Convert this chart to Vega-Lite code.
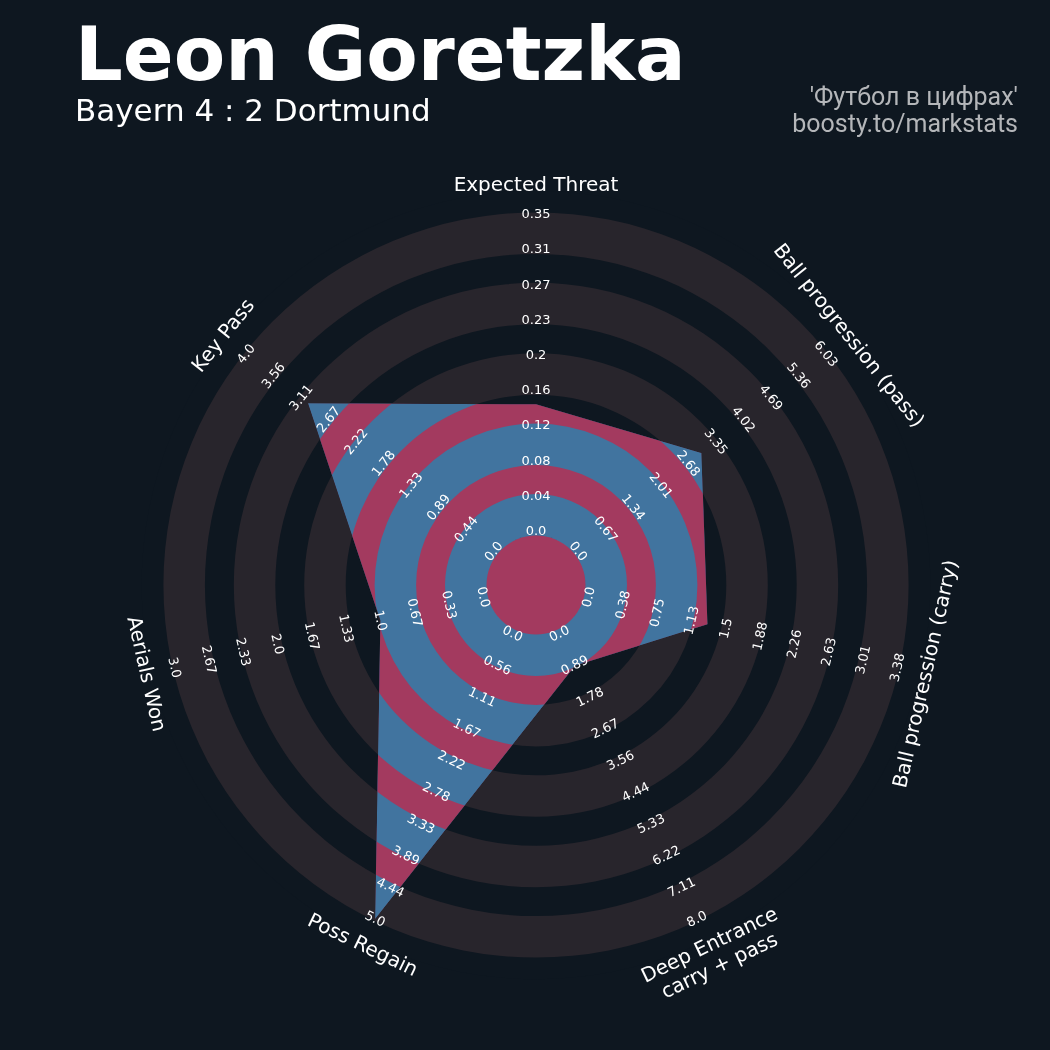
{
  "$schema": "https://vega.github.io/schema/vega-lite/v6.json",
  "width": 1028,
  "height": 930,
  "autosize": {"type": "none"},
  "padding": {"left": 22, "top": 120, "right": 0, "bottom": 0},
  "background": "#0e1720",
  "config": {"view": {"stroke": null, "fill": "#0e1720"}, "text": {"font": "DejaVu Sans"}},
  "title": {
    "text": "Leon Goretzka",
    "subtitle": "Bayern 4 : 2 Dortmund",
    "anchor": "start",
    "frame": "group",
    "font": "DejaVu Sans",
    "fontSize": 75,
    "fontWeight": "bold",
    "color": "#ffffff",
    "subtitleFont": "DejaVu Sans",
    "subtitleFontSize": 31,
    "subtitleColor": "#ffffff",
    "subtitlePadding": 1,
    "dx": 53,
    "offset": -43
  },
  "datasets": {
    "params": [
      {"i": 0, "param": "Expected Threat", "value": 0.14, "max": 0.35},
      {"i": 1, "param": "Ball progression (pass)", "value": 3.0, "max": 6.03},
      {"i": 2, "param": "Ball progression (carry)", "value": 1.3, "max": 3.38},
      {"i": 3, "param": "Deep Entrance\ncarry + pass", "value": 0.9, "max": 8.0},
      {"i": 4, "param": "Poss Regain", "value": 5.0, "max": 5.0},
      {"i": 5, "param": "Aerials Won", "value": 1.0, "max": 3.0},
      {"i": 6, "param": "Key Pass", "value": 3.0, "max": 4.0}
    ],
    "rings": [{"ring": 0}, {"ring": 1}, {"ring": 2}, {"ring": 3}, {"ring": 4}],
    "ticks": [
      {"i":0,"k":0,"t":"0.0"},{"i":0,"k":1,"t":"0.04"},{"i":0,"k":2,"t":"0.08"},{"i":0,"k":3,"t":"0.12"},{"i":0,"k":4,"t":"0.16"},{"i":0,"k":5,"t":"0.2"},{"i":0,"k":6,"t":"0.23"},{"i":0,"k":7,"t":"0.27"},{"i":0,"k":8,"t":"0.31"},{"i":0,"k":9,"t":"0.35"},
      {"i":1,"k":0,"t":"0.0"},{"i":1,"k":1,"t":"0.67"},{"i":1,"k":2,"t":"1.34"},{"i":1,"k":3,"t":"2.01"},{"i":1,"k":4,"t":"2.68"},{"i":1,"k":5,"t":"3.35"},{"i":1,"k":6,"t":"4.02"},{"i":1,"k":7,"t":"4.69"},{"i":1,"k":8,"t":"5.36"},{"i":1,"k":9,"t":"6.03"},
      {"i":2,"k":0,"t":"0.0"},{"i":2,"k":1,"t":"0.38"},{"i":2,"k":2,"t":"0.75"},{"i":2,"k":3,"t":"1.13"},{"i":2,"k":4,"t":"1.5"},{"i":2,"k":5,"t":"1.88"},{"i":2,"k":6,"t":"2.26"},{"i":2,"k":7,"t":"2.63"},{"i":2,"k":8,"t":"3.01"},{"i":2,"k":9,"t":"3.38"},
      {"i":3,"k":0,"t":"0.0"},{"i":3,"k":1,"t":"0.89"},{"i":3,"k":2,"t":"1.78"},{"i":3,"k":3,"t":"2.67"},{"i":3,"k":4,"t":"3.56"},{"i":3,"k":5,"t":"4.44"},{"i":3,"k":6,"t":"5.33"},{"i":3,"k":7,"t":"6.22"},{"i":3,"k":8,"t":"7.11"},{"i":3,"k":9,"t":"8.0"},
      {"i":4,"k":0,"t":"0.0"},{"i":4,"k":1,"t":"0.56"},{"i":4,"k":2,"t":"1.11"},{"i":4,"k":3,"t":"1.67"},{"i":4,"k":4,"t":"2.22"},{"i":4,"k":5,"t":"2.78"},{"i":4,"k":6,"t":"3.33"},{"i":4,"k":7,"t":"3.89"},{"i":4,"k":8,"t":"4.44"},{"i":4,"k":9,"t":"5.0"},
      {"i":5,"k":0,"t":"0.0"},{"i":5,"k":1,"t":"0.33"},{"i":5,"k":2,"t":"0.67"},{"i":5,"k":3,"t":"1.0"},{"i":5,"k":4,"t":"1.33"},{"i":5,"k":5,"t":"1.67"},{"i":5,"k":6,"t":"2.0"},{"i":5,"k":7,"t":"2.33"},{"i":5,"k":8,"t":"2.67"},{"i":5,"k":9,"t":"3.0"},
      {"i":6,"k":0,"t":"0.0"},{"i":6,"k":1,"t":"0.44"},{"i":6,"k":2,"t":"0.89"},{"i":6,"k":3,"t":"1.33"},{"i":6,"k":4,"t":"1.78"},{"i":6,"k":5,"t":"2.22"},{"i":6,"k":6,"t":"2.67"},{"i":6,"k":7,"t":"3.11"},{"i":6,"k":8,"t":"3.56"},{"i":6,"k":9,"t":"4.0"}
    ]
  },
  "layer": [
    {
      "data": {"values": [{"zone": "plot"}]},
      "mark": {"type": "arc", "theta": 0, "theta2": 6.2832, "fill": "#0e1720", "stroke": null},
      "encoding": {
        "radius": {"datum": 11.2, "type": "quantitative", "scale": {"type": "linear", "domain": [0, 10], "range": [0, 352], "zero": true}}
      }
    },
    {
      "data": {"name": "params"},
      "transform": [
        {"calculate": "1.534 + 9 * datum.value / datum.max", "as": "u"},
        {"calculate": "datum.i * 2 * PI / 7", "as": "a"},
        {"calculate": "datum.u * sin(datum.a)", "as": "px"},
        {"calculate": "datum.u * cos(datum.a)", "as": "py"}
      ],
      "mark": {"type": "line", "interpolate": "linear-closed", "fill": "#a3749f", "strokeWidth": 0},
      "encoding": {
        "x": {"field": "px", "type": "quantitative", "scale": {"domain": [-14.602, 14.602], "nice": false, "zero": false}, "axis": null},
        "y": {"field": "py", "type": "quantitative", "scale": {"domain": [-13.21, 13.21], "nice": false, "zero": false}, "axis": null},
        "order": {"field": "i", "type": "quantitative"}
      }
    },
    {
      "data": {"name": "rings"},
      "transform": [
        {"calculate": "1.406 + 2 * datum.ring", "as": "inner"},
        {"calculate": "2.585 + 2 * datum.ring", "as": "outer"}
      ],
      "mark": {"type": "arc", "theta": 0, "theta2": 6.2832, "fill": "#28252c", "stroke": null, "blend": "lighten"},
      "encoding": {
        "radius": {"field": "outer", "type": "quantitative"},
        "radius2": {"field": "inner"}
      }
    },
    {
      "data": {"name": "rings"},
      "transform": [
        {"calculate": "1.406 + 2 * datum.ring", "as": "inner"},
        {"calculate": "2.585 + 2 * datum.ring", "as": "outer"}
      ],
      "mark": {"type": "arc", "theta": 0, "theta2": 6.2832, "fill": "#41ffff", "stroke": null, "blend": "darken"},
      "encoding": {
        "radius": {"field": "outer", "type": "quantitative"},
        "radius2": {"field": "inner"}
      }
    },
    {
      "data": {"name": "rings"},
      "transform": [
        {"calculate": "datum.ring == 0 ? 0 : 0.585 + 2 * datum.ring", "as": "inner"},
        {"calculate": "1.406 + 2 * datum.ring", "as": "outer"}
      ],
      "mark": {"type": "arc", "theta": 0, "theta2": 6.2832, "fill": "#ff3a5f", "stroke": null, "blend": "darken"},
      "encoding": {
        "radius": {"field": "outer", "type": "quantitative"},
        "radius2": {"field": "inner"}
      }
    },
    {
      "data": {"name": "ticks"},
      "transform": [
        {"calculate": "1.534 + datum.k", "as": "u"},
        {"calculate": "datum.i * 2 * PI / 7", "as": "a"},
        {"calculate": "datum.u * sin(datum.a)", "as": "px"},
        {"calculate": "datum.u * cos(datum.a)", "as": "py"},
        {"calculate": "datum.i * 360 / 7", "as": "deg"},
        {"calculate": "datum.deg > 90 && datum.deg < 270 ? datum.deg - 180 : datum.deg", "as": "rot"}
      ],
      "mark": {"type": "text", "fontSize": 13, "color": "#ffffff", "align": "center", "baseline": "middle"},
      "encoding": {
        "x": {"field": "px", "type": "quantitative"},
        "y": {"field": "py", "type": "quantitative"},
        "text": {"field": "t"},
        "angle": {"field": "rot", "type": "quantitative", "scale": null}
      }
    },
    {
      "data": {"name": "params"},
      "transform": [
        {"calculate": "datum.i * 2 * PI / 7", "as": "a"},
        {"calculate": "11.36 * sin(datum.a)", "as": "px"},
        {"calculate": "11.36 * cos(datum.a)", "as": "py"},
        {"calculate": "datum.i * 360 / 7", "as": "deg"},
        {"calculate": "datum.deg > 90 && datum.deg < 270 ? datum.deg - 180 : datum.deg", "as": "rot"}
      ],
      "mark": {"type": "text", "fontSize": 20, "color": "#ffffff", "align": "center", "baseline": "middle", "lineBreak": "\n", "lineHeight": 23},
      "encoding": {
        "x": {"field": "px", "type": "quantitative"},
        "y": {"field": "py", "type": "quantitative"},
        "text": {"field": "param"},
        "angle": {"field": "rot", "type": "quantitative", "scale": null}
      }
    },
    {
      "data": {"values": [{"credit": "'Футбол в цифрах'\nboosty.to/markstats"}]},
      "mark": {"type": "text", "font": "Roboto", "fontSize": 25, "color": "#b4b6b9", "align": "right", "baseline": "alphabetic", "lineBreak": "\n", "lineHeight": 27},
      "encoding": {
        "x": {"datum": 13.693, "type": "quantitative"},
        "y": {"datum": 13.636, "type": "quantitative"},
        "text": {"field": "credit"}
      }
    }
  ]
}
